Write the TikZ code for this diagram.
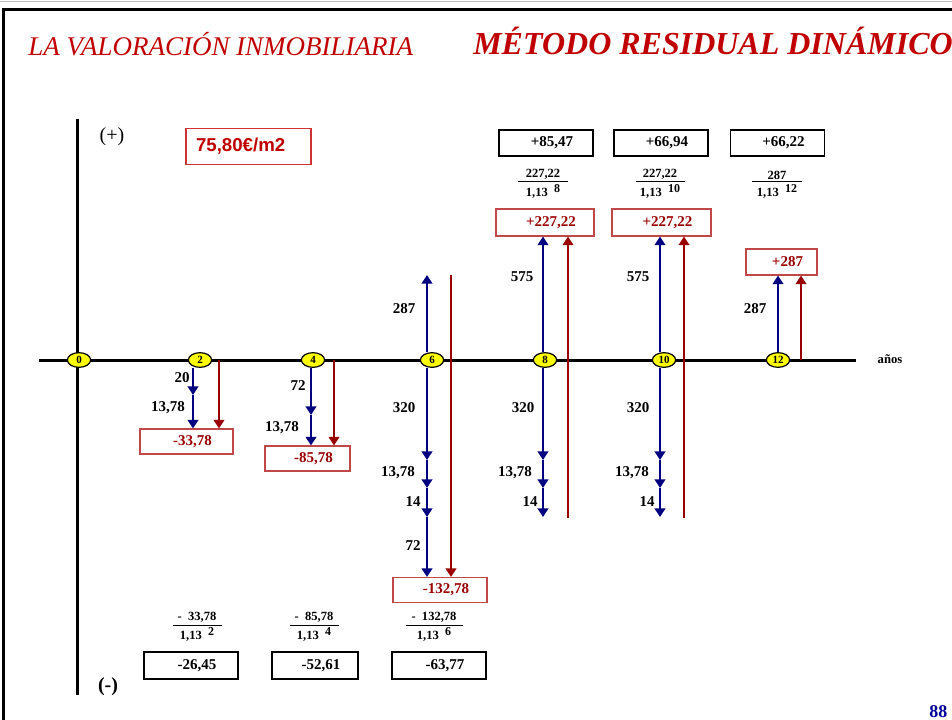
\documentclass[tikz,border=0pt]{standalone}
\usepackage{fontspec}
\setmainfont{Liberation Serif}
\newfontfamily\mrdsans{Liberation Sans}
\usepackage{xcolor}
\definecolor{mrdtitle}{HTML}{C00000}
\definecolor{mrdnavy}{HTML}{000080}
\definecolor{mrdwine}{HTML}{990000}
\definecolor{mrdedge}{HTML}{C04848}
\definecolor{mrdyellow}{HTML}{FFFF00}
\definecolor{mrdink}{HTML}{000099}
\usetikzlibrary{arrows.meta,shapes.geometric}
\newcommand{\mrdnum}{\fontsize{11.25}{13}\selectfont\bfseries}
\tikzset{
  mrdaxis/.style={line width=2.25pt},
  mrdyear/.style={ellipse,draw,fill=mrdyellow,line width=0.9pt,minimum width=17.5pt,minimum height=11pt,inner sep=0pt,font=\fontsize{8.25}{9}\selectfont\bfseries},
  mrdblue/.style={draw=mrdnavy,line width=1.5pt,-{Triangle[width=8pt,length=6.5pt]}},
  mrdred/.style={draw=mrdwine,line width=1.5pt,-{Triangle[width=8pt,length=6.5pt]}},
  mrdcash/.style={draw=mrdedge,line width=0.8pt,text=mrdwine,font=\mrdnum,inner sep=0pt,minimum height=18.75pt,execute at begin node={\hspace*{9pt}}},
  mrdvalue/.style={draw,line width=1pt,font=\mrdnum,inner sep=0pt,minimum width=70.5pt,minimum height=19.5pt,execute at begin node={\hspace*{9pt}}},
  mrdprice/.style={draw=mrdtitle!80,line width=0.8pt,text=mrdtitle,font=\mrdsans\fontsize{14}{16}\selectfont\bfseries,inner sep=7.5pt,text width=78.75pt,align=left,minimum height=24.75pt},
  mrdlabel/.style={font=\mrdnum,inner sep=0pt},
  mrdfrac/.style={font=\fontsize{9.4}{10}\selectfont\bfseries,inner sep=1.5pt},
  mrdbar/.style={line width=0.75pt},
  mrdhead/.style={text=mrdtitle,inner sep=0pt},
}
\begin{document}
\begin{tikzpicture}[x=0.75pt,y=-0.75pt]
\clip (0,0) rectangle (952,720);
% frame
\draw[gray!50,line width=0.75pt] (0,2) -- (952,2);
\draw[line width=2.25pt] (3.5,730) -- (3.5,9.5) -- (960,9.5);
% titles
\node[mrdhead,font=\fontsize{20.25}{24}\selectfont\itshape,anchor=base west] (tleft) at (28,56) {LA VALORACIÓN INMOBILIARIA};
\node[mrdhead,font=\fontsize{24}{28}\selectfont\bfseries\itshape,anchor=base west] (tright) at (473,55) {MÉTODO RESIDUAL DINÁMICO};
% axes
\draw[mrdaxis] (77,119) -- (77,695);
\draw[mrdaxis] (39,360) -- (856,360);
\node[font=\fontsize{15}{17}\selectfont] (plus) at (112,137) {(+)};
\node[font=\fontsize{15}{17}\selectfont\bfseries] (minus) at (108,687) {(-)};
\node[font=\fontsize{9.5}{11}\selectfont\bfseries] (anos) at (890,359) {años};
\node[mrdprice] (eur) at (248.5,146.5) {75,80€/m2};
% years on the axis
\foreach \yr/\xx in {0/79,2/200,4/313,6/432,8/545,10/664,12/778}
  \node[mrdyear] (y\yr) at (\xx,360) {\yr};
% cash flow boxes
\node[mrdcash,minimum width=69.75pt] (r2) at (186.5,441.5) {-33,78};
\node[mrdcash,minimum width=63.75pt] (r4) at (307.5,458.5) {-85,78};
\node[mrdcash,minimum width=70.5pt] (r6) at (440,590) {-132,78};
\node[mrdcash,minimum width=73.5pt,minimum height=20.25pt] (r8) at (545,222.5) {+227,22};
\node[mrdcash,minimum width=74.25pt,minimum height=20.25pt] (r10) at (661.5,222.5) {+227,22};
\node[mrdcash,minimum width=53.25pt,minimum height=19.5pt] (r12) at (781.5,262) {+287};
% discounted values
\node[mrdvalue] (v8) at (546,143) {+85,47};
\node[mrdvalue] (v10) at (661,143) {+66,94};
\node[mrdvalue] (v12) at (777.5,143) {+66,22};
\node[mrdvalue,minimum height=20.25pt] (v2) at (191,665.5) {-26,45};
\node[mrdvalue,minimum height=20.25pt,minimum width=64.5pt] (v4) at (315,665.5) {-52,61};
\node[mrdvalue,minimum height=20.25pt] (v6) at (439,665.5) {-63,77};
% year 2
\coordinate (b2a) at (193,395);
\coordinate (w2) at (219,360);
\draw[mrdblue] (y2.south -| b2a) -- (b2a);
\draw[mrdblue] (b2a) -- (r2.north -| b2a);
\draw[mrdred] (w2) -- (r2.north -| w2);
% year 4
\coordinate (b4a) at (311,415);
\coordinate (w4) at (334,360);
\draw[mrdblue] (y4.south -| b4a) -- (b4a);
\draw[mrdblue] (b4a) -- (r4.north -| b4a);
\draw[mrdred] (w4) -- (r4.north -| w4);
% year 6
\coordinate (b6u) at (427,275);
\coordinate (b6a) at (427,460);
\coordinate (b6b) at (427,488);
\coordinate (b6c) at (427,517);
\coordinate (w6) at (451,275);
\draw[mrdblue] (y6.north -| b6u) -- (b6u);
\draw[mrdblue] (y6.south -| b6a) -- (b6a);
\draw[mrdblue] (b6a) -- (b6b);
\draw[mrdblue] (b6b) -- (b6c);
\draw[mrdblue] (b6c) -- (r6.north -| b6c);
\draw[mrdred] (w6) -- (r6.north -| w6);
% years 8 and 10
\foreach \yr/\bx/\rx in {8/543/568,10/660/684}{
  \coordinate (b\yr a) at (\bx,460);
  \coordinate (b\yr b) at (\bx,488);
  \coordinate (b\yr c) at (\bx,517);
  \coordinate (w\yr) at (\rx,518);
  \draw[mrdblue] (y\yr.north -| b\yr a) -- (r\yr.south -| b\yr a);
  \draw[mrdblue] (y\yr.south -| b\yr a) -- (b\yr a);
  \draw[mrdblue] (b\yr a) -- (b\yr b);
  \draw[mrdblue] (b\yr b) -- (b\yr c);
  \draw[mrdred] (w\yr) -- (r\yr.south -| w\yr);
}
% year 12
\coordinate (w12) at (801,360);
\draw[mrdblue] (y12.north) -- (r12.south -| y12.north);
\draw[mrdred] (w12) -- (r12.south -| w12);
% amounts
\foreach \nm/\xx/\yy/\tx in {a/182/378/20, b/168/408/{13,78}, c/298/386/72, d/282/428/{13,78},
    e/404/309/287, f/404/408/320, g/398/473/{13,78}, h/413/502/14, i/413/546/72,
    j/522/277/575, k/523/408/320, l/515/473/{13,78}, m/530/502/14,
    n/638/277/575, o/638/408/320, p/632/473/{13,78}, q/647/502/14, r/755/309/287}
  \node[mrdlabel] (lab\nm) at (\xx,\yy) {\tx};
% discount fractions
\foreach \ex/\xx/\yy/\num/\bw in {8/543/182/{227,22}/50, 10/660/182/{227,22}/49, 12/777/182/287/50,
    2/197/625/{-\ \ 33,78}/49, 4/314/625/{-\ \ 85,78}/49, 6/434/625/{-\ \ 132,78}/57}{
  \draw[mrdbar] (\xx-\bw/2,\yy) -- (\xx+\bw/2,\yy);
  \node[mrdfrac,anchor=south] (qn\ex) at (\xx,\yy) {\num};
  \node[mrdfrac,anchor=north] (qd\ex) at (\xx,\yy) {1,13\ \ \raisebox{3.5pt}{\fontsize{9}{10}\selectfont\ex}};
}
\node[font=\fontsize{13.5}{16}\selectfont\bfseries,text=mrdink,anchor=west,inner sep=0pt] (page) at (929,712) {88};
\end{tikzpicture}
\end{document}
